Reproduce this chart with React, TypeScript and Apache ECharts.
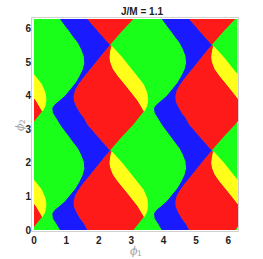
import React, { useEffect, useRef } from "react";
import * as echarts from "echarts";

const PI = Math.PI;
const TWO_PI = 2 * Math.PI;

// Boundaries, one period (phi2 from 0 to pi), as [phi1, phi2]
const greenBlueEdge: [number, number][] = [
  [0.82, 0.0], [0.7, 0.19], [0.6, 0.34], [0.58, 0.49], [0.65, 0.59], [0.78, 0.69],
  [0.96, 0.84], [1.13, 1.04], [1.3, 1.24], [1.42, 1.44], [1.52, 1.64], [1.57, 1.83],
  [1.55, 2.04], [1.47, 2.24], [1.37, 2.43], [1.21, 2.63], [1.06, 2.83], [0.9, 3.03],
  [0.82, 3.14],
];
const blueRedEdge: [number, number][] = [
  [1.645, 0.0], [1.54, 0.19], [1.42, 0.34], [1.3, 0.54], [1.235, 0.69], [1.225, 0.84],
  [1.265, 1.02], [1.37, 1.19], [1.52, 1.39], [1.73, 1.64], [1.935, 1.885], [2.14, 2.13],
  [2.346, 2.364], [2.0, 2.75], [1.645, 3.14],
];
const redLowerRightEdge: [number, number][] = [[3.07, 0.0]];
const yellowLeftEdge: [number, number][] = [
  [3.4, 0.4], [3.34, 0.5], [3.22, 0.7], [3.015, 0.95], [2.81, 1.2], [2.6, 1.445],
  [2.45, 1.65], [2.37, 1.85], [2.346, 2.0], [2.37, 2.19], [2.4, 2.32],
];
const redUpperRightEdge: [number, number][] = [[2.346, 2.364], [2.7, 2.76], [3.07, 3.14]];
const yellowRightEdge: [number, number][] = [
  [2.42, 2.31], [2.71, 2.0], [2.96, 1.7], [3.17, 1.445], [3.37, 1.2], [3.48, 0.95],
  [3.51, 0.75], [3.48, 0.55], [3.4, 0.4],
];
const periodShifts = [-1, 0, 1, 2];
const colors = { green: "#1aff1a", blue: "#1a1aff", red: "#ff1a1a", yellow: "#ffff1a" };
const xName = ["ϕ", "1"];
const yName = ["ϕ", "2"];

type Poly = { pts: [number, number][]; fill: string; stroke?: string };

function band(left: [number, number][], right: [number, number][], xs: number): [number, number][] {
  const pts: [number, number][] = [];
  periodShifts.forEach((j, k) => {
    left.forEach((p, i) => {
      if (k > 0 && i === 0) return;
      pts.push([p[0] + xs, p[1] + j * PI]);
    });
  });
  [...periodShifts].reverse().forEach((j, k) => {
    const r = [...right].reverse();
    r.forEach((p, i) => {
      if (k > 0 && i === 0) return;
      pts.push([p[0] + xs, p[1] + j * PI]);
    });
  });
  return pts;
}

function buildPolys(): Poly[] {
  const redRightEdge = [...redLowerRightEdge, ...yellowLeftEdge, ...redUpperRightEdge];
  const polys: Poly[] = [];
  periodShifts.forEach((i) => {
    polys.push({ pts: band(greenBlueEdge, blueRedEdge, i * PI), fill: colors.blue, stroke: colors.blue });
  });
  periodShifts.forEach((i) => {
    polys.push({ pts: band(blueRedEdge, redRightEdge, i * PI), fill: colors.red });
  });
  periodShifts.forEach((i) => {
    periodShifts.forEach((j) => {
      const pts: [number, number][] = [...yellowLeftEdge, ...yellowRightEdge].map(
        (p) => [p[0] + i * PI, p[1] + j * PI] as [number, number]
      );
      polys.push({ pts, fill: colors.yellow, stroke: colors.yellow });
    });
  });
  return polys;
}

const intLabel = (v: number) => (Math.abs(v - Math.round(v)) < 1e-6 ? String(Math.round(v)) : "");

const nameMain = { fontFamily: "DejaVu Serif", fontStyle: "italic", fontSize: 11, fill: "#a0a0a0" };
const nameSub = { fontFamily: "DejaVu Sans", fontSize: 7.5, fill: "#a0a0a0" };

export default function App() {
  const ref = useRef<HTMLDivElement>(null);
  useEffect(() => {
    document.body.style.margin = "0";
    if (!ref.current) return;
    const chart = echarts.init(ref.current, undefined, { renderer: "svg" });
    const polys = buildPolys();
    const labelStyle = {
      formatter: intLabel,
      fontFamily: "Liberation Sans",
      fontWeight: "bold" as const,
      fontSize: 10,
      color: "#222",
      showMaxLabel: false,
    };
    chart.setOption({
      animation: false,
      title: {
        text: "J/M = 1.1",
        left: 116,
        top: 1,
        textStyle: { fontFamily: "Liberation Sans", fontWeight: "bold", fontSize: 10, color: "#222" },
      },
      grid: {
        left: 34,
        top: 19,
        width: 203.5,
        height: 211,
        backgroundColor: colors.green,
        show: true,
        borderWidth: 0,
        containLabel: false,
        outerBoundsMode: "none",
      },
      graphic: [
        {
          type: "rect",
          z: -1,
          shape: { x: 31.5, y: 17.5, width: 207, height: 214 },
          style: { fill: "none", stroke: "#d0d0d0", lineWidth: 1 },
        },
        {
          type: "group",
          x: 130,
          y: 251,
          children: [
            { type: "text", x: 0, y: 0, style: { ...nameMain, text: xName[0], textAlign: "left", textVerticalAlign: "middle" } },
            { type: "text", x: 7, y: 2, style: { ...nameSub, text: xName[1], textAlign: "left", textVerticalAlign: "middle" } },
          ],
        },
        {
          type: "group",
          x: 20,
          y: 131,
          rotation: Math.PI / 2,
          children: [
            { type: "text", x: 0, y: 0, style: { ...nameMain, text: yName[0], textAlign: "left", textVerticalAlign: "middle" } },
            { type: "text", x: 7, y: 2, style: { ...nameSub, text: yName[1], textAlign: "left", textVerticalAlign: "middle" } },
          ],
        },
      ],
      xAxis: {
        type: "value",
        min: 0,
        max: TWO_PI,
        interval: 1,
        axisLine: { show: false },
        axisTick: { show: false },
        splitLine: { show: false },
        axisLabel: { ...labelStyle, margin: 5 },
      },
      yAxis: {
        type: "value",
        min: 0,
        max: TWO_PI,
        interval: 1,
        axisLine: { show: false },
        axisTick: { show: false },
        splitLine: { show: false },
        axisLabel: { ...labelStyle, margin: 3 },
      },
      series: [
        {
          type: "custom",
          clip: true,
          data: polys.map((_, i) => [0, 0, i]),
          encode: { x: 0, y: 1 },
          renderItem: (params: any, api: any) => {
            const poly = polys[params.dataIndex];
            const points = poly.pts.map((p) => api.coord(p));
            return {
              type: "polygon",
              shape: { points },
              style: {
                fill: poly.fill,
                stroke: poly.stroke || "none",
                lineWidth: poly.stroke ? 1 : 0,
              },
            };
          },
        },
      ],
    });
    return () => chart.dispose();
  }, []);
  return <div ref={ref} style={{ width: 263, height: 259 }} />;
}
